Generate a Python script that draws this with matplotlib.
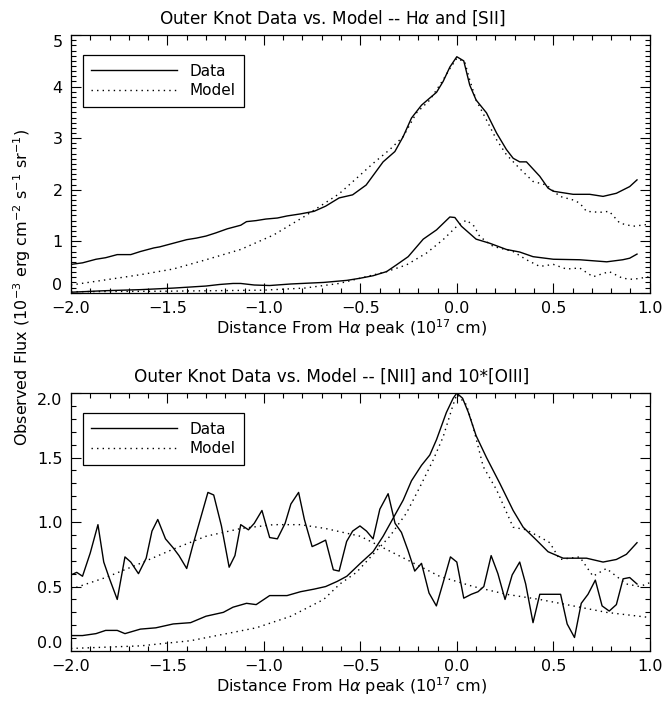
import numpy as np
import matplotlib
matplotlib.use("Agg")
import matplotlib.pyplot as plt
from matplotlib.ticker import MultipleLocator

# top panel: H-alpha and [SII]
ha_x = [-2.0, -1.94, -1.87, -1.82, -1.76, -1.69, -1.64, -1.57, -1.54, -1.47, -1.40, -1.35, -1.30,
        -1.25, -1.19, -1.12, -1.09, -1.04, -0.99, -0.93, -0.88, -0.81, -0.74, -0.68, -0.61, -0.54,
        -0.47, -0.425, -0.382, -0.321, -0.278, -0.235, -0.183, -0.149, -0.105, -0.071, -0.036, 0.0,
        0.036, 0.067, 0.10, 0.154, 0.206, 0.257, 0.292, 0.326, 0.361, 0.43, 0.473, 0.50, 0.603,
        0.689, 0.758, 0.827, 0.896, 0.934]
ha_data = [0.55, 0.58, 0.65, 0.68, 0.74, 0.74, 0.80, 0.87, 0.89, 0.96, 1.03, 1.06, 1.10,
           1.16, 1.24, 1.31, 1.38, 1.40, 1.43, 1.45, 1.49, 1.53, 1.58, 1.68, 1.84, 1.90,
           2.09, 2.32, 2.54, 2.74, 3.03, 3.39, 3.64, 3.75, 3.89, 4.10, 4.38, 4.58,
           4.50, 4.03, 3.74, 3.49, 3.10, 2.78, 2.61, 2.54, 2.54, 2.26, 2.03, 1.97, 1.91,
           1.91, 1.87, 1.93, 2.06, 2.19]

ha_mx = [-2.0, -1.82, -1.64, -1.47, -1.30, -1.12, -0.95, -0.79, -0.61, -0.52, -0.434, -0.347,
         -0.278, -0.209, -0.14, -0.071, -0.036, 0.0, 0.041, 0.067, 0.10, 0.154, 0.206, 0.257,
         0.326, 0.395, 0.465, 0.534, 0.603, 0.637, 0.672, 0.741, 0.79, 0.845, 0.913, 1.0]
ha_model = [0.15, 0.25, 0.35, 0.46, 0.64, 0.84, 1.12, 1.48, 1.92, 2.22, 2.51, 2.78,
            3.03, 3.49, 3.74, 4.13, 4.35, 4.55, 4.48, 4.13, 3.74, 3.35, 2.97, 2.68,
            2.41, 2.16, 2.09, 1.87, 1.80, 1.74, 1.58, 1.56, 1.58, 1.35, 1.29, 1.33]

sii_x = [-2.0, -1.82, -1.64, -1.47, -1.30, -1.23, -1.16, -1.12, -1.05, -0.97, -0.86, -0.69,
         -0.57, -0.503, -0.434, -0.364, -0.313, -0.252, -0.174, -0.105, -0.036, -0.01, 0.024,
         0.10, 0.171, 0.257, 0.326, 0.395, 0.50, 0.637, 0.777, 0.86, 0.896, 0.934]
sii_data = [0.01, 0.04, 0.06, 0.09, 0.13, 0.16, 0.18, 0.18, 0.15, 0.14, 0.17, 0.20,
            0.24, 0.28, 0.33, 0.41, 0.54, 0.70, 1.04, 1.22, 1.47, 1.46, 1.29,
            1.04, 0.96, 0.84, 0.79, 0.70, 0.65, 0.64, 0.60, 0.64, 0.67, 0.75]

sii_mx = [-2.0, -1.5, -1.0, -0.79, -0.61, -0.503, -0.364, -0.261, -0.157, -0.071, 0.0, 0.05,
          0.09, 0.119, 0.188, 0.292, 0.361, 0.43, 0.50, 0.568, 0.637, 0.706, 0.79, 0.86, 0.913, 1.0]
sii_model = [0.02, 0.03, 0.05, 0.09, 0.18, 0.28, 0.41, 0.54, 0.77, 1.03, 1.29, 1.41,
             1.29, 1.09, 0.90, 0.80, 0.64, 0.51, 0.55, 0.46, 0.48, 0.31, 0.41, 0.28, 0.26, 0.31]

# bottom panel: [NII] and 10*[OIII]
nii_x = [-2.0, -1.94, -1.87, -1.82, -1.76, -1.72, -1.64, -1.56, -1.47, -1.38, -1.30, -1.21,
         -1.16, -1.09, -1.04, -0.97, -0.88, -0.81, -0.74, -0.68, -0.62, -0.57, -0.50, -0.434,
         -0.382, -0.33, -0.278, -0.235, -0.183, -0.14, -0.105, -0.054, -0.019, 0.0, 0.03, 0.06,
         0.10, 0.154, 0.223, 0.292, 0.344, 0.413, 0.473, 0.551, 0.672, 0.758, 0.827, 0.879, 0.934]
nii_data = [0.12, 0.12, 0.135, 0.16, 0.16, 0.135, 0.17, 0.18, 0.21, 0.22, 0.27, 0.30,
            0.34, 0.37, 0.36, 0.43, 0.43, 0.46, 0.48, 0.50, 0.54, 0.58, 0.68, 0.77,
            0.89, 1.03, 1.17, 1.32, 1.44, 1.52, 1.64, 1.85, 1.96, 2.0, 1.96, 1.85,
            1.67, 1.50, 1.30, 1.09, 0.96, 0.86, 0.77, 0.72, 0.72, 0.69, 0.71, 0.75, 0.84]

nii_mx = [-2.0, -1.64, -1.38, -1.21, -1.04, -0.86, -0.69, -0.606, -0.52, -0.434, -0.347,
          -0.261, -0.192, -0.123, -0.071, -0.019, 0.0, 0.05, 0.086, 0.137, 0.206, 0.292, 0.361,
          0.447, 0.482, 0.534, 0.637, 0.706, 0.775, 0.827, 0.879, 0.948, 1.0]
nii_model = [0.02, 0.04, 0.08, 0.13, 0.18, 0.27, 0.40, 0.52, 0.61, 0.75, 0.89,
             1.07, 1.27, 1.48, 1.66, 1.91, 1.99, 1.91, 1.73, 1.43, 1.25, 0.96, 0.94,
             0.87, 0.84, 0.71, 0.73, 0.58, 0.64, 0.58, 0.52, 0.50, 0.53]

oiii_x = [-2.0, -1.97, -1.94, -1.90, -1.86, -1.83, -1.80, -1.76, -1.72, -1.69, -1.65, -1.61,
          -1.58, -1.55, -1.51, -1.47, -1.44, -1.40, -1.37, -1.33, -1.29, -1.26, -1.22, -1.18,
          -1.15, -1.12, -1.08, -1.05, -1.01, -0.97, -0.93, -0.89, -0.86, -0.82, -0.79, -0.75,
          -0.72, -0.68, -0.64, -0.61, -0.571, -0.54, -0.502, -0.468, -0.434, -0.399, -0.356,
          -0.32, -0.287, -0.253, -0.218, -0.183, -0.144, -0.106, -0.071, -0.033, 0.0, 0.036,
          0.075, 0.11, 0.14, 0.178, 0.213, 0.25, 0.287, 0.326, 0.357, 0.395, 0.43, 0.465,
          0.503, 0.538, 0.572, 0.61, 0.645, 0.68, 0.718, 0.753, 0.79, 0.827, 0.862, 0.896, 0.934]
oiii_data = [0.59, 0.61, 0.58, 0.76, 0.98, 0.69, 0.56, 0.40, 0.73, 0.69, 0.60, 0.72,
             0.93, 1.02, 0.87, 0.80, 0.74, 0.64, 0.81, 1.02, 1.23, 1.21, 0.97, 0.65,
             0.74, 0.98, 0.94, 0.99, 1.09, 0.88, 0.87, 0.99, 1.14, 1.23, 1.02, 0.81,
             0.83, 0.86, 0.63, 0.62, 0.85, 0.93, 0.97, 0.93, 0.87, 1.10, 1.22,
             0.99, 0.92, 0.78, 0.62, 0.68, 0.45, 0.35, 0.53, 0.73, 0.69, 0.41,
             0.44, 0.46, 0.50, 0.74, 0.60, 0.40, 0.59, 0.69, 0.52, 0.22, 0.44, 0.44,
             0.44, 0.44, 0.21, 0.105, 0.37, 0.44, 0.55, 0.35, 0.31, 0.36, 0.56, 0.57, 0.52]

oiii_mx = [-2.0, -1.82, -1.64, -1.47, -1.30, -1.12, -0.95, -0.81, -0.68, -0.50, -0.434,
           -0.261, -0.09, 0.086, 0.257, 0.43, 0.603, 0.775, 1.0]
oiii_model = [0.48, 0.57, 0.68, 0.79, 0.89, 0.95, 0.98, 0.98, 0.95, 0.89, 0.84,
              0.71, 0.58, 0.50, 0.44, 0.40, 0.35, 0.30, 0.26]

top_yticks = [0, 1, 2, 3, 4, 5]
top_ylabels = ['0', '1', '2', '3', '4', '5']
bot_yticks = [0.0, 0.5, 1.0, 1.5, 2.0]
bot_ylabels = ['0.0', '0.5', '1.0', '1.5', '2.0']

plt.rcParams['font.family'] = 'DejaVu Sans'
plt.rcParams['mathtext.fontset'] = 'dejavusans'
fs = 11

fig = plt.figure(figsize=(6.63, 7.02), dpi=100)
ax1 = fig.add_axes([0.107, 0.583, 0.873, 0.367])
ax2 = fig.add_axes([0.107, 0.0726, 0.873, 0.3674])

dot = (0, (1, 3))


def style(ax, ylim, yticks, ylabels, title):
    ax.set_xlim(-2, 1)
    ax.set_ylim(*ylim)
    ax.xaxis.set_major_locator(MultipleLocator(0.5))
    ax.xaxis.set_minor_locator(MultipleLocator(0.1))
    ax.set_yticks(yticks)
    ax.set_yticklabels(ylabels)
    ax.yaxis.set_minor_locator(MultipleLocator(0.1))
    ax.tick_params(which='both', direction='in', top=True, right=True, labelsize=fs + 0.5, width=0.8)
    ax.tick_params(which='major', length=7)
    ax.tick_params(axis='x', which='major', pad=6)
    ax.tick_params(axis='y', which='major', pad=6)
    ax.tick_params(which='minor', length=3.5)
    labs = ax.get_yticklabels()
    labs[0].set_va('bottom')
    labs[-1].set_va('top')
    for s in ax.spines.values():
        s.set_linewidth(0.9)
    ax.set_title(title, fontsize=fs + 1.2, pad=8, x=0.451)
    ax.set_xlabel(r'Distance From H$\alpha$ peak (10$^{17}$ cm)', fontsize=fs + 0.5, labelpad=1, x=0.484)
    leg = ax.legend(loc='upper left', bbox_to_anchor=(0.021, 0.922), borderaxespad=0,
                    fancybox=False, edgecolor='black', fontsize=fs, handlelength=5.6,
                    handletextpad=0.8, borderpad=0.55, labelspacing=0.3, framealpha=1)
    leg.get_frame().set_linewidth(0.9)


ax1.plot(ha_x, ha_data, color='black', lw=1, label='Data')
ax1.plot(ha_mx, ha_model, color='black', lw=1, ls=dot, label='Model')
ax1.plot(sii_x, sii_data, color='black', lw=1)
ax1.plot(sii_mx, sii_model, color='black', lw=1, ls=dot)
style(ax1, (0, 5), top_yticks, top_ylabels, r'Outer Knot Data vs. Model -- H$\alpha$ and [SII]')

ax2.plot(nii_x, nii_data, color='black', lw=1, label='Data')
ax2.plot(nii_mx, nii_model, color='black', lw=1, ls=dot, label='Model')
ax2.plot(oiii_x, oiii_data, color='black', lw=1)
ax2.plot(oiii_mx, oiii_model, color='black', lw=1, ls=dot)
style(ax2, (0, 2), bot_yticks, bot_ylabels, 'Outer Knot Data vs. Model -- [NII] and 10*[OIII]')

fig.text(0.033, 1 - 288 / 702,
         r'Observed Flux (10$^{-3}$ erg cm$^{-2}$ s$^{-1}$ sr$^{-1}$)',
         rotation=90, ha='center', va='center', fontsize=fs + 0.5)

fig.savefig('out.png', dpi=100)
